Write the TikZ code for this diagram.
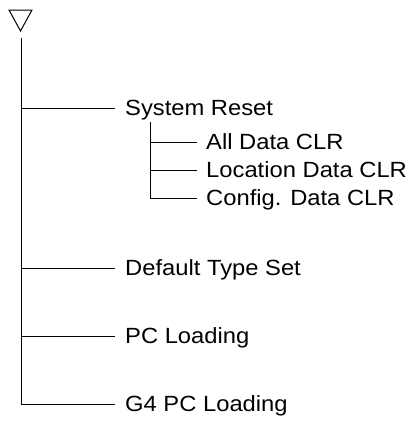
\documentclass[tikz,border=0pt]{standalone}
\usepackage{fontspec}
\setmainfont{Liberation Sans}[FakeStretch=1.08]
\usetikzlibrary{positioning}
\begin{document}
\begin{tikzpicture}[
  x=1pt, y=1pt,
  font=\fontsize{22}{26}\selectfont,
  item/.style={anchor=west, inner xsep=10pt, inner ysep=0pt,
               text height=15.7pt, text depth=0pt},
  subitem/.style={item, inner xsep=9pt},
  wire/.style={line width=1pt}
]
\useasboundingbox (0,0) rectangle (415,-426);
\draw[wire] (9,-10) -- (32,-10) -- (20.5,-31) -- cycle;
\coordinate (top) at (21,-38);
\node[item] (reset) at (115,-108) {System Reset};
\node[item] (deflt) at (115,-268) {Default Type Set};
\node[item] (pcload) at (115,-336) {PC Loading};
\node[item] (g4load) at (115,-404) {G4 PC Loading};
\coordinate (subtop) at (150,-122);
\node[subitem] (alldata) at (197,-142) {All Data CLR};
\node[subitem] (locdata) at (197,-170) {Location Data CLR};
\node[subitem] (cfgdata) at (197,-198) {Config. Data CLR};
\draw[wire] (top) |- (g4load.west);
\foreach \n in {reset, deflt, pcload}
  \draw[wire] (top |- \n.west) -- (\n.west);
\draw[wire] (subtop) |- (cfgdata.west);
\foreach \n in {alldata, locdata}
  \draw[wire] (subtop |- \n.west) -- (\n.west);
\end{tikzpicture}
\end{document}
